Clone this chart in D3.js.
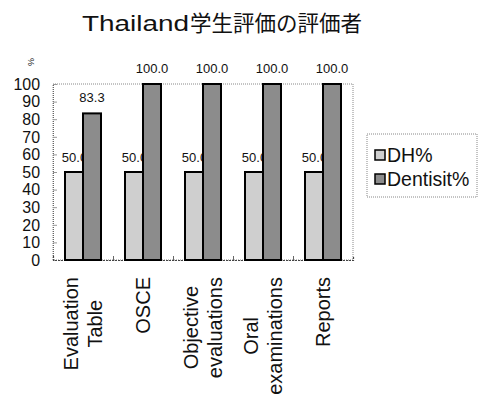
<!DOCTYPE html>
<html><head><meta charset="utf-8">
<script src="https://cdn.jsdelivr.net/npm/d3@7"></script>
<style>body{margin:0;background:#fff}svg{display:block}</style>
</head><body>
<script>
const categories = [["Evaluation","Table"],["OSCE"],["Objective","evaluations"],["Oral","examinations"],["Reports"]];
const seriesNames = ["DH%","Dentisit%"];
const dhValues = [50.0, 50.0, 50.0, 50.0, 50.0];
const dentistValues = [83.3, 100.0, 100.0, 100.0, 100.0];
const yTicks = [0,10,20,30,40,50,60,70,80,90,100];
const titleLatin = "Thailand";
const titleCJK = "学生評価の評価者";
const unitLabel = "%";

(function(){
const W = 479, H = 396;
const pLeft = 53, pRight = 353, pTop = 84, pBottom = 260;
const fills = ["#cfcfcf", "#8c8c8c"];
const sansLat = "'Liberation Sans', Arial, sans-serif";

const svg = d3.select("body").append("svg").attr("width", W).attr("height", H);

const catKeys = categories.map((c,i)=>i);
const x0 = d3.scaleBand().domain(catKeys).range([pLeft, pRight]).paddingInner(0).paddingOuter(0);
const x1 = d3.scaleBand().domain(seriesNames).range([12, 48]);
const y = d3.scaleLinear().domain([0,100]).range([pBottom, pTop]);

// title: Latin part widened to match the reference's wide Latin glyphs
svg.append("text").attr("transform", "translate(82,31) scale(1.27,1)")
  .attr("font-family", sansLat).attr("font-size", 22).attr("fill", "#111").text(titleLatin);
svg.append("text").attr("x", 190).attr("y", 31)
  .attr("font-family", "'Noto Sans CJK JP', sans-serif").attr("font-size", 21.5).attr("fill", "#111").text(titleCJK);

// plot border (dotted)
svg.append("rect").attr("x", pLeft).attr("y", pTop).attr("width", pRight-pLeft).attr("height", pBottom-pTop)
  .attr("fill", "none").attr("stroke", "#888").attr("stroke-width", 1).attr("stroke-dasharray", "1,1");

// y axis labels
const yAxis = d3.axisLeft(y).tickValues(yTicks).tickSize(0).tickPadding(13);
const yg = svg.append("g").attr("transform", `translate(${pLeft},0)`).call(yAxis);
yg.select(".domain").remove();
yg.selectAll("text").attr("font-family", sansLat).attr("font-size", 14.5).attr("fill", "#111")
  .attr("x", -13/1.1).attr("y", 0).attr("transform", "scale(1.1,1.12)");
// inner y ticks
const yTickG = svg.append("g").attr("transform", `translate(${pLeft},0)`).call(d3.axisRight(y).tickValues(yTicks).tickSize(4).tickFormat(""));
yTickG.select(".domain").attr("stroke", "#666").attr("stroke-dasharray", "1,1");
yTickG.selectAll("line").attr("stroke", "#999");

// x axis line + ticks at boundaries
const xAxisG = svg.append("g").attr("transform", `translate(0,${pBottom})`)
  .call(d3.axisTop(d3.scaleLinear().domain([0, categories.length]).range([pLeft, pRight]))
    .tickValues(d3.range(1, categories.length)).tickSize(4).tickFormat(""));
xAxisG.select(".domain").attr("stroke", "#444").attr("stroke-width", 1.2).attr("stroke-dasharray", "2,1");
xAxisG.selectAll("line").attr("stroke", "#666");

// unit label
svg.append("text").attr("transform", "translate(28,62) rotate(90)").attr("text-anchor", "middle")
  .attr("font-family", sansLat).attr("font-size", 9).attr("fill", "#222").text(unitLabel);

const bars = svg.append("g");
// DH bars
bars.selectAll("rect.dh").data(dhValues).join("rect").attr("class","dh")
  .attr("x", (d,i)=>x0(i)+x1(seriesNames[0])).attr("width", x1.bandwidth())
  .attr("y", d=>y(d)).attr("height", d=>pBottom-y(d))
  .attr("fill", fills[0]).attr("stroke", "#000").attr("stroke-width", 2);
bars.selectAll("text.dh").data(dhValues).join("text").attr("class","dh")
  .attr("x", (d,i)=>x0(i)+x1(seriesNames[0])+x1.bandwidth()/2+0.5).attr("y", d=>y(d)-10.5)
  .attr("text-anchor","middle").attr("font-family", sansLat).attr("font-size", 13).attr("fill","#111")
  .text(d=>d.toFixed(1));
// Dentist bars
bars.selectAll("rect.dn").data(dentistValues).join("rect").attr("class","dn")
  .attr("x", (d,i)=>x0(i)+x1(seriesNames[1])).attr("width", x1.bandwidth())
  .attr("y", d=>y(d)).attr("height", d=>pBottom-y(d))
  .attr("fill", fills[1]).attr("stroke", "#000").attr("stroke-width", 2);
bars.selectAll("text.dn").data(dentistValues).join("text").attr("class","dn")
  .attr("x", (d,i)=>x0(i)+x1(seriesNames[1])+x1.bandwidth()/2).attr("y", d=>y(d)-11.5)
  .attr("text-anchor","middle").attr("font-family", sansLat).attr("font-size", 13).attr("fill","#111")
  .text(d=>d.toFixed(1));

// x labels (rotated)
const lineH = 24;
categories.forEach((lines, i) => {
  const cx = x0(i) + x0.bandwidth()/2;
  const g = svg.append("g");
  const texts = lines.map((s, j) => {
    const bx = cx + (j - (lines.length-1)/2) * lineH + 7;
    return g.append("text").attr("text-anchor","middle")
      .attr("font-family", sansLat).attr("font-size", 20).attr("fill","#111")
      .attr("data-bx", bx).text(s);
  });
  const maxLen = d3.max(texts, tx => tx.node().getComputedTextLength());
  const cy = 277 + maxLen/2;
  texts.forEach(tx => {
    const bx = +tx.attr("data-bx");
    tx.attr("transform", `translate(${bx},${cy}) rotate(-90)`);
  });
});

// legend
const lg = svg.append("g");
lg.append("rect").attr("x", 367).attr("y", 134).attr("width", 110).attr("height", 63)
  .attr("fill", "#fff").attr("stroke", "#888").attr("stroke-dasharray", "1,1");
seriesNames.forEach((s, i) => {
  const cy = 155 + i*24;
  lg.append("rect").attr("x", 375).attr("y", cy-5).attr("width", 10).attr("height", 10)
    .attr("fill", fills[i]).attr("stroke", "#000").attr("stroke-width", 1.5);
  lg.append("text").attr("x", 387).attr("y", cy+6.5).attr("font-family", sansLat).attr("font-size", 19.5)
    .attr("fill", "#111").text(s);
});
})();
</script>
</body></html>
